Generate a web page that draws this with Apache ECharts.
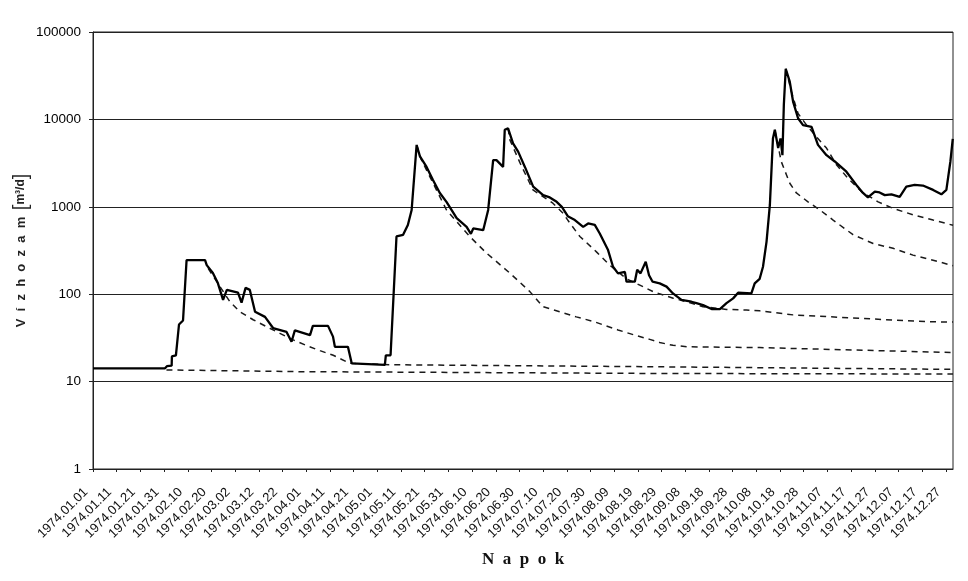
<!DOCTYPE html>
<html>
<head>
<meta charset="utf-8">
<script src="https://cdn.jsdelivr.net/npm/echarts@6/dist/echarts.min.js"></script>
<style>
html,body{margin:0;padding:0;background:#fff;}
#chart{width:968px;height:581px;}
</style>
</head>
<body>
<div id="chart"></div>
<script>
// x tick labels (every 10 days from 1974.01.01)
const tickLabels = ["1974.01.01","1974.01.11","1974.01.21","1974.01.31","1974.02.10","1974.02.20",
  "1974.03.02","1974.03.12","1974.03.22","1974.04.01","1974.04.11","1974.04.21","1974.05.01",
  "1974.05.11","1974.05.21","1974.05.31","1974.06.10","1974.06.20","1974.06.30","1974.07.10",
  "1974.07.20","1974.07.30","1974.08.09","1974.08.19","1974.08.29","1974.09.08","1974.09.18",
  "1974.09.28","1974.10.08","1974.10.18","1974.10.28","1974.11.07","1974.11.17","1974.11.27",
  "1974.12.07","1974.12.17","1974.12.27"];
const yTicks = [1, 10, 100, 1000, 10000, 100000];

// Discharge (day of year from 1974.01.01, m3/d)
const dischargeDays = [0,30.4,31.2,33.2,33.3,35,36.3,38,39.5,47.3,48,50.6,52.7,54.9,56.5,61.2,62.7,64.4,66.2,68.4,72.6,76,81.7,83.8,85.2,91.6,92.8,99.2,101.3,102.1,107.6,109.2,123.2,123.6,125.6,128.1,130.9,132.9,134.5,136.6,138,140.8,143.5,146.4,149.2,153.5,157.7,159.5,160.5,164.7,166.8,168.9,170.3,173.1,173.8,175.2,177.3,179.5,182.3,185.8,190,192.8,195.7,197.9,200.4,203.4,206.9,209,211.8,213.9,217.4,219.5,221.6,224.5,225.2,228.7,229.7,231.1,233.3,234.7,236.2,239.2,242.1,244.8,248.4,252.6,254.7,257.5,261.1,264.6,267.4,270.2,272.3,277.9,279.3,281.4,282.8,284.3,285.7,287,287.8,289.2,290.2,291,291.6,292.4,294.1,295.5,297.6,299.7,303.3,306,309.6,313.1,318,322.2,325,327.1,330,332,334.2,337,340.5,343.3,346.8,350.3,354.6,358.1,360.2,361.9,362.9];
const dischargeVals = [14.2,14.2,15,15.2,19.4,20,45,50,246,246,215,175,134,86,112,104,80,118,112,63,55,41,37,28.6,38.5,34,43.4,43.4,32.7,25,25,16.2,15.5,20,20,458,478,620,920,5100,3770,2860,2030,1440,1140,740,590,490,565,540,920,3420,3420,2860,7600,7900,5330,4250,2860,1700,1360,1280,1140,1000,780,705,590,645,620,495,320,206,173,180,139,139,190,173,235,165,139,133,122,102,86,82,79,75,67.6,67.6,79,89.6,104,102,133,150,206,400,1050,6060,7600,4700,6060,3900,14700,38000,27000,16000,10300,8600,8200,5110,3900,3300,2520,1780,1440,1280,1490,1460,1360,1390,1300,1700,1780,1750,1560,1390,1560,3300,6000];

// Recession curves (dashed)
const recADays = [31,87,235,363];
const recAVals = [13.6,13,12.4,12.2];
const recFebDays = [48.6,53.6,57.8,62,67.6,73.3,78.9,84.5,90.2,95.8,101.4,108.4,125,235,363];
const recFebVals = [197,122,82,63,51,42.5,35.6,30,25.8,22.6,20,16.2,15.6,14.8,13.8];
const recMayDays = [136.6,138.5,149.2,159,166.1,175.9,184.4,189.9,197,204,211.5,221.6,228.7,235,239.2,244.8,251,281.4,363];
const recMayVals = [5100,3500,920,458,295,175,107,72,63,55,48.5,39,34,30.4,28,26,25,24.5,21.5];
const recJunDays = [175.2,176,180.2,185.7,194.1,198.3,201.3,205.5,212.5,218.1,225.2,230.8,236.4,244.9,250.5,257.5,267.4,275.8,281.4,295.5,323.6,351.8,363];
const recJunVals = [7900,5800,3200,1560,1100,850,650,458,305,215,150,127,107,90,82,72,67,66,64.5,58,53,48.5,48];
const recOct1Days = [287.8,289.5,290.5,294.1,296.9,301.8,306.8,312.4,320.8,329.3,337.7,346.1,354.6,363];
const recOct1Vals = [7600,4500,3300,1860,1440,1140,920,705,480,380,335,280,245,212];
const recOct2Days = [292.4,294.8,297.6,301.2,305.4,309.6,313.9,318.8,324.5,331.4,337.7,346.1,354.6,363];
const recOct2Vals = [38000,20700,11700,8600,6300,4700,3000,2100,1480,1140,960,810,705,615];

function zip(a, b) { return a.map((d, i) => [d, b[i]]); }

const dashed = (name, days, vals) => ({
  name: name, type: 'line', data: zip(days, vals), showSymbol: false, symbol: 'none',
  lineStyle: { color: '#1a1a1a', width: 1.5, type: [6, 5] }, z: 2, silent: true
});

const chart = echarts.init(document.getElementById('chart'), null, { renderer: 'canvas' });
chart.setOption({
  backgroundColor: '#ffffff',
  animation: false,
  grid: { left: 93, right: 15, top: 32, bottom: 112, containLabel: false, outerBoundsMode: 'none',
          show: true, borderColor: '#222', borderWidth: 1, backgroundColor: 'transparent' },
  xAxis: {
    type: 'value', min: 0, max: 363, interval: 10,
    name: 'N  a  p  o  k', nameLocation: 'middle', nameGap: 82, nameMoveOverlap: false,
    nameTextStyle: { fontFamily: 'Liberation Serif', fontWeight: 'bold', fontSize: 17, color: '#111' },
    axisLine: { show: true, lineStyle: { color: '#222', width: 1 } },
    axisTick: { show: true, length: 3, lineStyle: { color: '#222' } },
    splitLine: { show: false },
    axisLabel: {
      rotate: 45, fontSize: 13, fontFamily: 'Liberation Sans', color: '#111', margin: 14,
      padding: [0, 10, 0, 0],
      showMaxLabel: false,
      formatter: function (v) { return (Math.round(v) % 10 === 0) ? (tickLabels[Math.round(v / 10)] || '') : ''; }
    }
  },
  yAxis: {
    type: 'log', logBase: 10, min: 1, max: 100000,
    name: '{a|V  í  z  h  o  z  a  m}  {b|[}{c|m³/d}{b|]}', nameLocation: 'middle', nameGap: 62, nameRotate: 90,
    nameMoveOverlap: false,
    nameTextStyle: {
      color: '#222',
      rich: {
        a: { fontFamily: 'Liberation Sans', fontWeight: 'bold', fontSize: 13, color: '#222' },
        b: { fontFamily: 'Liberation Sans', fontSize: 20, color: '#222' },
        c: { fontFamily: 'Liberation Sans', fontWeight: 'bold', fontSize: 12, color: '#222' }
      }
    },
    axisLine: { show: true, lineStyle: { color: '#222', width: 1 } },
    axisTick: { show: true, length: 4, lineStyle: { color: '#222' } },
    splitLine: { show: true, lineStyle: { color: '#222', width: 1 } },
    minorTick: { show: false },
    axisLabel: {
      fontSize: 13.5, fontFamily: 'Liberation Sans', color: '#000', margin: 12,
      formatter: function (v) { const r = Math.round(v); return yTicks.indexOf(r) >= 0 ? String(r) : ''; }
    }
  },
  series: [
    dashed('recA', recADays, recAVals),
    dashed('recFeb', recFebDays, recFebVals),
    dashed('recMay', recMayDays, recMayVals),
    dashed('recJun', recJunDays, recJunVals),
    dashed('recOct1', recOct1Days, recOct1Vals),
    dashed('recOct2', recOct2Days, recOct2Vals),
    {
      name: 'Vízhozam', type: 'line', data: zip(dischargeDays, dischargeVals),
      showSymbol: false, symbol: 'none', z: 3, silent: true,
      lineStyle: { color: '#000', width: 2.3 }
    }
  ]
});
</script>
</body>
</html>
